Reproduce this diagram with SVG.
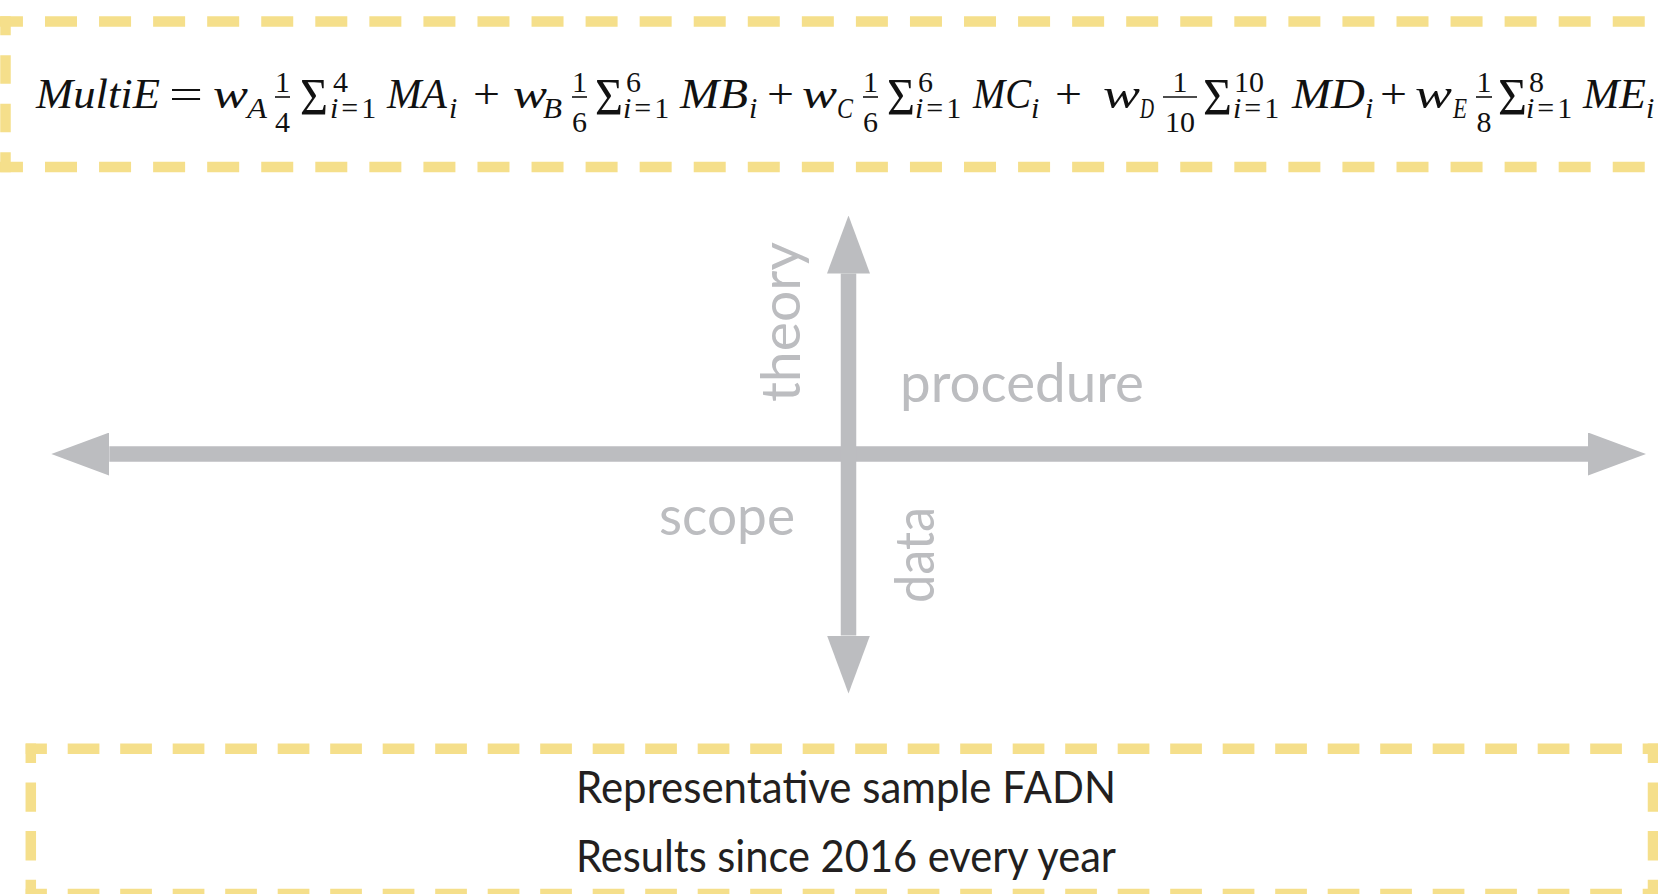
<svg xmlns="http://www.w3.org/2000/svg" width="1658" height="894" viewBox="0 0 1658 894">
<defs>
<style>
.bg{fill:#ffffff}
.dash{fill:none;stroke:#F5DF8B;stroke-width:10.5;stroke-linecap:butt}
.axis{fill:none;stroke:#BCBDC0;stroke-width:15.5}
.lbl{font-family:Lato,"Open Sans",sans-serif;font-size:54px;fill:#BCBDC0}
.body{font-family:Lato,"Open Sans",sans-serif;font-size:44px;fill:#231F20}
.f{font-family:"Liberation Serif","DejaVu Serif",serif;font-style:italic;font-size:42px;fill:#111}
.s{font-family:"Liberation Serif","DejaVu Serif",serif;font-style:italic;font-size:30px;fill:#111}
.u{font-style:normal}
.ls{letter-spacing:3px}
.sig{font-family:"Liberation Serif","DejaVu Serif",serif;font-size:52px;fill:#111}
.bar{stroke:#111;stroke-width:1.6}
</style>
<marker id="head" markerUnits="userSpaceOnUse" markerWidth="58" markerHeight="43" viewBox="0 0 58 43" refX="0" refY="21.5" orient="auto-start-reverse">
<path d="M0,0 L58,21.5 L0,43 Z" fill="#BCBDC0"/>
</marker>
</defs>
<rect class="bg" x="0" y="0" width="1658" height="894"/>

<g id="formula-box">
<line class="dash" x1="0" y1="21.5" x2="1658" y2="21.5" stroke-dasharray="32 22.06" stroke-dashoffset="9.06"/>
<line class="dash" x1="0" y1="167" x2="1658" y2="167" stroke-dasharray="32 22.06" stroke-dashoffset="9.06"/>
<line class="dash" x1="5.5" y1="16.3" x2="5.5" y2="172.3" stroke-dasharray="28.5 20" stroke-dashoffset="9.5"/>
<g id="formula">
<text class="f" x="36" y="108" textLength="124" lengthAdjust="spacingAndGlyphs">MultiE</text>
<text class="f u" x="169" y="108" textLength="34" lengthAdjust="spacingAndGlyphs">=</text>
<!-- term A -->
<text class="f" x="213" y="108" textLength="35" lengthAdjust="spacingAndGlyphs">w</text>
<text class="s" x="247" y="118" textLength="20" lengthAdjust="spacingAndGlyphs">A</text>
<text class="s u" text-anchor="middle"><tspan x="282.5" y="92">1</tspan><tspan x="282.5" y="132">4</tspan></text>
<line class="bar" x1="275" y1="97" x2="290" y2="97"/>
<text class="sig" x="300" y="115" textLength="28" lengthAdjust="spacingAndGlyphs">Σ</text>
<text class="s"><tspan class="u" x="333" y="92">4</tspan><tspan class="ls" x="330" y="118">i<tspan class="u">=1</tspan></tspan></text>
<text class="f" x="387" y="108" textLength="60" lengthAdjust="spacingAndGlyphs">MA</text>
<text class="s" x="449" y="118">i</text>
<text class="f u" x="473" y="108" textLength="27" lengthAdjust="spacingAndGlyphs">+</text>
<!-- term B -->
<text class="f" x="513" y="108" textLength="34" lengthAdjust="spacingAndGlyphs">w</text>
<text class="s" x="543" y="118" textLength="19" lengthAdjust="spacingAndGlyphs">B</text>
<text class="s u" text-anchor="middle"><tspan x="579.5" y="92">1</tspan><tspan x="579.5" y="132">6</tspan></text>
<line class="bar" x1="572" y1="97" x2="587" y2="97"/>
<text class="sig" x="595" y="115" textLength="28" lengthAdjust="spacingAndGlyphs">Σ</text>
<text class="s"><tspan class="u" x="626" y="92">6</tspan><tspan class="ls" x="623" y="118">i<tspan class="u">=1</tspan></tspan></text>
<text class="f" x="680" y="108" textLength="68" lengthAdjust="spacingAndGlyphs">MB</text>
<text class="s" x="749" y="118">i</text>
<text class="f u" x="767" y="108" textLength="27" lengthAdjust="spacingAndGlyphs">+</text>
<!-- term C -->
<text class="f" x="802" y="108" textLength="35" lengthAdjust="spacingAndGlyphs">w</text>
<text class="s" x="837" y="118" textLength="16" lengthAdjust="spacingAndGlyphs">C</text>
<text class="s u" text-anchor="middle"><tspan x="870.5" y="92">1</tspan><tspan x="870.5" y="132">6</tspan></text>
<line class="bar" x1="863" y1="97" x2="878" y2="97"/>
<text class="sig" x="887" y="115" textLength="28" lengthAdjust="spacingAndGlyphs">Σ</text>
<text class="s"><tspan class="u" x="918" y="92">6</tspan><tspan class="ls" x="915" y="118">i<tspan class="u">=1</tspan></tspan></text>
<text class="f" x="973" y="108" textLength="58" lengthAdjust="spacingAndGlyphs">MC</text>
<text class="s" x="1031" y="118">i</text>
<text class="f u" x="1055" y="108" textLength="27" lengthAdjust="spacingAndGlyphs">+</text>
<!-- term D -->
<text class="f" x="1103" y="108" textLength="37" lengthAdjust="spacingAndGlyphs">w</text>
<text class="s" x="1140" y="118" textLength="14" lengthAdjust="spacingAndGlyphs">D</text>
<text class="s u" text-anchor="middle"><tspan x="1180" y="92">1</tspan><tspan x="1180" y="132">10</tspan></text>
<line class="bar" x1="1163" y1="97" x2="1197" y2="97"/>
<text class="sig" x="1203" y="115" textLength="29" lengthAdjust="spacingAndGlyphs">Σ</text>
<text class="s"><tspan class="u" x="1234" y="92">10</tspan><tspan class="ls" x="1233" y="118">i<tspan class="u">=1</tspan></tspan></text>
<text class="f" x="1292" y="108" textLength="73" lengthAdjust="spacingAndGlyphs">MD</text>
<text class="s" x="1365" y="118">i</text>
<text class="f u" x="1380" y="108" textLength="27" lengthAdjust="spacingAndGlyphs">+</text>
<!-- term E -->
<text class="f" x="1415" y="108" textLength="37" lengthAdjust="spacingAndGlyphs">w</text>
<text class="s" x="1453" y="118" textLength="14" lengthAdjust="spacingAndGlyphs">E</text>
<text class="s u" text-anchor="middle"><tspan x="1484" y="92">1</tspan><tspan x="1484" y="132">8</tspan></text>
<line class="bar" x1="1476" y1="97" x2="1492" y2="97"/>
<text class="sig" x="1498" y="115" textLength="29" lengthAdjust="spacingAndGlyphs">Σ</text>
<text class="s"><tspan class="u" x="1529" y="92">8</tspan><tspan class="ls" x="1526" y="118">i<tspan class="u">=1</tspan></tspan></text>
<text class="f" x="1583" y="108" textLength="63" lengthAdjust="spacingAndGlyphs">ME</text>
<text class="s" x="1646" y="118">i</text>
</g>
</g>

<g id="connectors">
<line class="axis" x1="109.3" y1="454" x2="1588" y2="454" marker-start="url(#head)" marker-end="url(#head)"/>
<line class="axis" x1="848.5" y1="273.5" x2="848.5" y2="635.5" marker-start="url(#head)" marker-end="url(#head)"/>
</g>

<g id="label-theory"><text class="lbl" transform="translate(800,402) rotate(-90)" textLength="160" lengthAdjust="spacingAndGlyphs">theory</text></g>
<g id="label-procedure"><text class="lbl" x="900" y="402" textLength="244" lengthAdjust="spacingAndGlyphs">procedure</text></g>
<g id="label-scope"><text class="lbl" x="659" y="535" textLength="136" lengthAdjust="spacingAndGlyphs">scope</text></g>
<g id="label-data"><text class="lbl" transform="translate(934,603) rotate(-90)" textLength="96" lengthAdjust="spacingAndGlyphs">data</text></g>

<g id="data-box">
<line class="dash" x1="25.7" y1="748.7" x2="1658" y2="748.7" stroke-dasharray="31.7 20.8" stroke-dashoffset="10.5"/>
<line class="dash" x1="25.7" y1="894" x2="1658" y2="894" stroke-dasharray="31.7 20.8" stroke-dashoffset="10.5"/>
<line class="dash" x1="30.8" y1="743.4" x2="30.8" y2="900" stroke-dasharray="29.3 19.4" stroke-dashoffset="9.7"/>
<line class="dash" x1="1653" y1="743.4" x2="1653" y2="900" stroke-dasharray="29.3 19.4" stroke-dashoffset="9.7"/>
<text class="body" x="576" y="803" textLength="540" lengthAdjust="spacingAndGlyphs">Representative sample FADN</text>
<text class="body" x="576" y="872" textLength="540" lengthAdjust="spacingAndGlyphs">Results since 2016 every year</text>
</g>
</svg>
